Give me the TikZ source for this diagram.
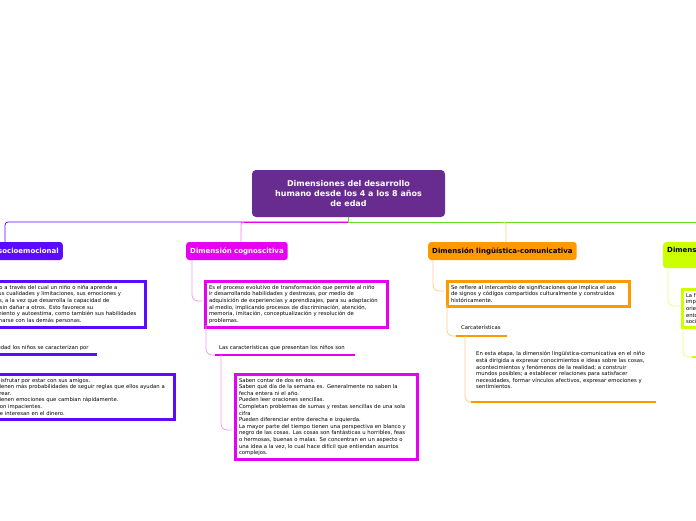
\documentclass[tikz,border=0pt]{standalone}
\usepackage{fontspec}
\setmainfont{DejaVu Sans}
\begin{document}
\begin{tikzpicture}[x=1pt,y=-1pt,
  root/.style={fill=rootc,rounded corners=4pt,text=white,font=\bfseries\fontsize{8}{9.6}\selectfont,align=center,minimum width=193pt,minimum height=47pt,inner sep=0pt},
  branch/.style={rounded corners=3pt,font=\bfseries\fontsize{7}{8}\selectfont,minimum height=18pt,inner sep=4pt},
  tbox/.style={draw=#1,line width=3pt,fill=white,font=\fontsize{5.3}{6.6}\selectfont,align=left,anchor=north west,inner sep=4pt,text width=174pt},
  txt/.style={font=\fontsize{5.3}{6.6}\selectfont,align=left,anchor=north west,inner sep=0pt},
  con/.style={draw=#1,line width=0.8pt,rounded corners=6pt}]
\definecolor{rootc}{HTML}{682C91}
\definecolor{cblue}{HTML}{5B0BFF}
\definecolor{cmag}{HTML}{E800F2}
\definecolor{corange}{HTML}{FF9900}
\definecolor{cgreen}{HTML}{CCFF00}
\definecolor{lblue}{HTML}{A98BFF}
\definecolor{lmag}{HTML}{F59BF8}
\definecolor{lorange}{HTML}{FFD08A}
\definecolor{lgreen}{HTML}{E8FF80}
\definecolor{lgreenline}{HTML}{66DD22}
\useasboundingbox (0,0) rectangle (696,520);
\clip (0,0) rectangle (696,520);
\fill[white] (0,0) rectangle (696,520);

% top connectors
\coordinate (j) at (348,222);
\draw[cblue,line width=0.8pt,rounded corners=3pt] (j) -- (5,222) -- (5,243);
\draw[cmag,line width=0.8pt] (j) -- (241,222);
\draw[cmag!50,line width=0.8pt,rounded corners=3pt] (244,222) -- (241,222) -- (241,243);
\draw[lgreenline,line width=0.8pt] (348,217) -- (j) -- (696,222);
\draw[lorange,line width=0.8pt,rounded corners=3pt] (503,222) -- (506,222) -- (506,243);

\node[root] (r) at (348.5,193.5) {Dimensiones del desarrollo\\humano desde los 4 a los 8 años\\de edad};

% branch nodes
\node[branch,fill=cblue,text=white,anchor=east] (b1) at (63,251) {Dimensión socioemocional};
\node[branch,fill=cmag,text=white,anchor=west] (b2) at (186,251) {Dimensión cognoscitiva};
\node[branch,fill=corange,text=black,anchor=west] (b3) at (428,251) {Dimensión lingüística-comunicativa};
\node[branch,fill=cgreen,text=black,minimum height=26pt,anchor=north west,text depth=12pt] (b4) at (663,242) {Dimensión corporal};

% socioemocional
\node[tbox=cblue] (s1) at (-38,279.5) {Es el proceso a través del cual un niño o niña aprende a\\reconocer sus cualidades y limitaciones, sus emociones y\\sentimientos, a la vez que desarrolla la capacidad de\\expresarlos sin dañar a otros. Esto favorece su\\autoconocimiento y autoestima, como también sus habilidades\\para relacionarse con las demás personas.};
\node[txt] (s2) at (-24,345) {En esta edad los niños se caracterizan por};
\draw[cblue,line width=2.5pt] (-30,354.5) -- (97,354.5);
\node[tbox=cblue] (s3) at (-9,372.5) {Disfrutar por estar con sus amigos.\\Tienen más probabilidades de seguir reglas que ellos ayudan a\\crear.\\Tienen emociones que cambian rápidamente.\\Son impacientes.\\Se interesan en el dinero.};

% cognoscitiva
\draw[con=lmag] (192,260) -- (192,301) -- (202,301);
\node[tbox=cmag] (c1) at (203.5,279.5) {Es el proceso evolutivo de transformación que permite al niño\\ir desarrollando habilidades y destrezas, por medio de\\adquisición de experiencias y aprendizajes, para su adaptación\\al medio, implicando procesos de discriminación, atención,\\memoria, imitación, conceptualización y resolución de\\problemas.};
\draw[con=lmag] (206,325) -- (206,355) -- (215,355);
\node[txt] (c2) at (219,345) {Las características que presentan los niños son};
\draw[cmag,line width=2.5pt] (215,355) -- (355,355);
\draw[con=lmag] (221,355) -- (221,430) -- (232,430);
\node[tbox=cmag] (c3) at (233.5,372.5) {Saben contar de dos en dos.\\Saben qué día de la semana es. Generalmente no saben la\\fecha entera ni el año.\\Pueden leer oraciones sencillas.\\Completan problemas de sumas y restas sencillas de una sola\\cifra\\Pueden diferenciar entre derecha e izquierda.\\La mayor parte del tiempo tienen una perspectiva en blanco y\\negro de las cosas. Las cosas son fantásticas u horribles, feas\\o hermosas, buenas o malas. Se concentran en un aspecto o\\una idea a la vez, lo cual hace difícil que entiendan asuntos\\complejos.};

% lingüística
\draw[con=lorange] (433,260) -- (433,291) -- (444,291);
\node[tbox=corange] (l1) at (445.5,279.5) {Se refiere al intercambio de significaciones que implica el uso\\de signos y códigos compartidos culturalmente y construidos\\históricamente.};
\draw[con=lorange] (447,305) -- (447,336) -- (456,336);
\node[txt] (l2) at (461,325.5) {Carcaterísticas};
\draw[corange,line width=2.5pt] (456,336) -- (507,336);
\draw[con=lorange] (465,336) -- (465,402) -- (471,402);
\node[txt,text width=180pt] (l3) at (476,351.5) {En esta etapa, la dimensión lingüística-comunicativa en el niño\\está dirigida a expresar conocimientos e ideas sobre las cosas,\\acontecimientos y fenómenos de la realidad; a construir\\mundos posibles; a establecer relaciones para satisfacer\\necesidades, formar vínculos afectivos, expresar emociones y\\sentimientos.};
\draw[corange,line width=2.5pt] (471,402) -- (656,402);

% green
\draw[con=lgreen] (668,268) -- (668,306) -- (679,306);
\node[tbox=cgreen] (g1) at (680.5,287.5) {La función del cuerpo es\\importante para el niño, se\\orienta a su relación con el\\entorno físico, afectivo y\\social};
\draw[con=lgreen] (683,327) -- (683,357) -- (692,357);
\draw[cgreen,line width=2.5pt] (692,357) -- (720,357);
\end{tikzpicture}
\end{document}
